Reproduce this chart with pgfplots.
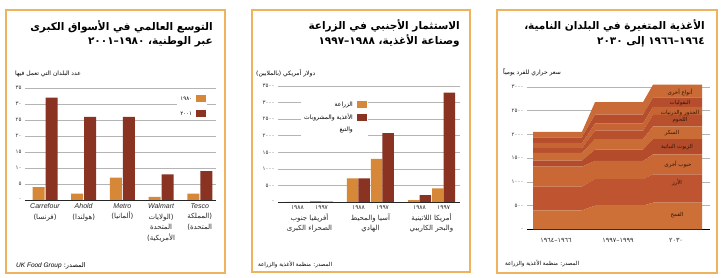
\documentclass[border=0pt]{standalone}
\usepackage{pgfplots}
\pgfplotsset{compat=1.18}
\usepackage{fontspec}
\setmainfont{DejaVu Sans}
\newfontfamily\arabicfont[Script=Arabic]{DejaVu Sans}
\newfontfamily\latinfont{Liberation Sans}
\TeXXeTstate=1
\newcommand{\ar}[1]{{\arabicfont\beginR #1\endR}}
\newcommand{\LL}[1]{\beginL #1\endL}
\definecolor{frame}{HTML}{EDB35F}
\definecolor{barA}{HTML}{D68838}
\definecolor{barB}{HTML}{8A3322}
\definecolor{gridc}{HTML}{B4B4B4}
\definecolor{lbl}{HTML}{2E1608}
\definecolor{c1}{HTML}{CC7038}
\definecolor{c2}{HTML}{BE5530}
\definecolor{c3}{HTML}{C96834}
\definecolor{c4}{HTML}{B44C2C}
\definecolor{c5}{HTML}{CA6C36}
\definecolor{c6}{HTML}{B8502E}
\definecolor{c7}{HTML}{C66433}
\definecolor{c8}{HTML}{B64E2E}
\definecolor{c9}{HTML}{C96A37}
\tikzset{fl/.style={anchor=center, inner sep=0, font=\fontsize{5.5}{6}\selectfont, text=lbl}}
\pgfplotsset{
  sqleg/.style={legend image code/.code={\fill[##1] (0pt,-3pt) rectangle (10pt,4pt);}},
  panel/.style={
    scale only axis, anchor=south west,
    axis x line*=bottom, axis y line*=left,
    y axis line style={draw=none},
    x axis line style={black!85, line width=0.6pt},
    major tick length=0pt,
    ymajorgrids, grid style={gridc, line width=0.5pt},
    tick label style={font=\fontsize{5.5}{6}\selectfont, text=black!80},
    clip=false,
  },
}
\begin{document}
\begin{tikzpicture}
\path[use as bounding box] (0,0) rectangle (721pt,278pt);
\fill[white] (0,0) rectangle (721pt,278pt);
% frames
\draw[frame, line width=1.3pt] (6pt,5pt) rectangle (225pt,268pt);
\draw[frame, line width=1.3pt] (252pt,6pt) rectangle (470pt,268pt);
\draw[frame, line width=1.3pt] (497pt,5pt) rectangle (717pt,268pt);

% ---------- Panel 1 ----------
\node[anchor=base east, inner sep=0] at (213pt,247pt) {\bfseries\fontsize{10.5}{13}\selectfont\ar{التوسع العالمي في الأسواق الكبرى}};
\node[anchor=base east, inner sep=0] at (213pt,233pt) {\bfseries\fontsize{10.5}{13}\selectfont\ar{عبر الوطنية، \LL{١٩٨٠}–\LL{٢٠٠١}}};
\node[anchor=base west, inner sep=0] at (15pt,202pt) {\fontsize{6}{7}\selectfont\ar{عدد البلدان التي تعمل فيها}};
\node[anchor=base west, inner sep=0] at (16pt,10pt) {\fontsize{6.5}{7}\selectfont{\latinfont\itshape UK Food Group} \ar{المصدر:}};

\begin{axis}[panel,
  at={(25pt,78pt)}, width=191pt, height=112pt,
  xmin=-0.517, xmax=4.42, ymin=0, ymax=35,
  ytick={0,5,...,35},
  yticklabels={٠,٥,١٠,١٥,٢٠,٢٥,٣٠,٣٥},
  xtick={0,1,2,3,4},
  xticklabels={
    {{\latinfont\itshape Carrefour}\\\ar{(فرنسا)}},
    {{\latinfont\itshape Ahold}\\\ar{(هولندا)}},
    {{\latinfont\itshape Metro}\\\ar{(ألمانيا)}},
    {{\latinfont\itshape Walmart}\\\ar{(الولايات}\\\ar{المتحدة}\\\ar{الأمريكية)}},
    {{\latinfont\itshape Tesco}\\\ar{(المملكة}\\\ar{المتحدة)}}},
  xticklabel style={font=\fontsize{7}{10.5}\selectfont, align=center, anchor=north, text=black!85},
  ybar, bar width=12pt,
  legend style={draw=none, fill=white, at={(0.955,0.95)}, anchor=north east,
    font=\fontsize{5.5}{6}\selectfont, row sep=6pt, inner sep=1pt, column sep=2pt},
  legend cell align=right, legend plot pos=right,
]
\addplot[fill=barA, draw=none, bar shift=-6.5pt, sqleg] coordinates {(0,4) (1,2) (2,7) (3,1) (4,2)};
\addlegendentry{١٩٨٠}
\addplot[fill=barB, draw=none, bar shift=6.5pt, sqleg] coordinates {(0,32) (1,26) (2,26) (3,8) (4,9)};
\addlegendentry{٢٠٠١}
\end{axis}

% ---------- Panel 2 ----------
\node[anchor=base east, inner sep=0] at (460pt,248pt) {\bfseries\fontsize{10.5}{13}\selectfont\ar{الاستثمار الأجنبي في الزراعة}};
\node[anchor=base east, inner sep=0] at (460pt,233pt) {\bfseries\fontsize{10.5}{13}\selectfont\ar{وصناعة الأغذية، \LL{١٩٨٨}–\LL{١٩٩٧}}};
\node[anchor=base west, inner sep=0] at (256pt,202pt) {\fontsize{6}{7}\selectfont\ar{دولار أمريكي (بالملايين)}};
\node[anchor=base west, inner sep=0] at (258pt,11pt) {\fontsize{5.5}{6}\selectfont\ar{المصدر: منظمة الأغذية والزراعة}};

\begin{axis}[panel,
  at={(278pt,76pt)}, width=182pt, height=116pt,
  xmin=-0.516, xmax=2.467, ymin=0, ymax=3500,
  ytick={0,500,...,3500},
  yticklabels={٠,٥٠٠,١٠٠٠,١٥٠٠,٢٠٠٠,٢٥٠٠,٣٠٠٠,٣٥٠٠},
  xtick={0,1,2},
  xticklabels={
    {\rule{0pt}{15pt}\ar{أفريقيا جنوب}\\\ar{الصحراء الكبرى}},
    {\rule{0pt}{15pt}\ar{آسيا والمحيط}\\\ar{الهادي}},
    {\rule{0pt}{15pt}\ar{أمريكا اللاتينية}\\\ar{والبحر الكاريبي}}},
  xticklabel style={font=\fontsize{7}{10}\selectfont, align=center, anchor=north, text=black!85},
  extra x ticks={-0.197,0.197,0.803,1.197,1.803,2.197},
  extra x tick labels={١٩٨٨,١٩٩٧,١٩٨٨,١٩٩٧,١٩٨٨,١٩٩٧},
  extra x tick style={xticklabel style={font=\fontsize{6}{7}\selectfont}},
  ybar, bar width=11.5pt,
  legend style={draw=none, fill=white, at={(0.495,0.89)}, anchor=north east,
    font=\fontsize{6}{7}\selectfont, row sep=2pt, inner sep=1pt, column sep=2pt},
  legend cell align=right, legend plot pos=right,
]
\addplot[fill=barA, draw=none, bar shift=-17.75pt, sqleg] coordinates {(0,6) (1,710) (2,60)};
\addlegendentry{\ar{الزراعة}}
\addplot[fill=barB, draw=none, bar shift=-6.25pt, sqleg] coordinates {(0,4) (1,710) (2,210)};
\addlegendentry{\ar{الأغذية والمشروبات}}
\addplot[fill=barA, draw=none, bar shift=6.25pt, forget plot] coordinates {(0,30) (1,1300) (2,410)};
\addplot[fill=barB, draw=none, bar shift=17.75pt, forget plot] coordinates {(0,8) (1,2080) (2,3300)};
\addlegendimage{empty legend}
\addlegendentry{\ar{والتبغ}}
\end{axis}

% ---------- Panel 3 ----------
\node[anchor=base east, inner sep=0] at (705pt,248pt) {\bfseries\fontsize{10.5}{13}\selectfont\ar{الأغذية المتغيرة في البلدان النامية،}};
\node[anchor=base east, inner sep=0] at (705pt,233pt) {\bfseries\fontsize{10.5}{13}\selectfont\ar{\LL{١٩٦٤}–\LL{١٩٦٦} إلى \LL{٢٠٣٠}}};
\node[anchor=base west, inner sep=0] at (503pt,203pt) {\fontsize{6}{7}\selectfont\ar{سعر حراري للفرد يومياً}};
\node[anchor=base west, inner sep=0] at (505pt,12pt) {\fontsize{5.5}{6}\selectfont\ar{المصدر: منظمة الأغذية والزراعة}};

\begin{axis}[panel,
  at={(527pt,48.7pt)}, width=183pt, height=142.3pt,
  xmin=0, xmax=183, ymin=0, ymax=3000,
  ytick={0,500,...,3000},
  yticklabels={٠,٥٠٠,١٠٠٠,١٥٠٠,٢٠٠٠,٢٥٠٠,٣٠٠٠},
  x axis line style={black, line width=1.3pt},
  xtick={29,91,149},
  xticklabels={١٩٦٦–١٩٦٤,١٩٩٩–١٩٩٧,٢٠٣٠},
  xticklabel style={font=\fontsize{6.5}{7}\selectfont, yshift=-6pt, text=black!85},
  stack plots=y,
]
\addplot[fill=c1, draw=none] coordinates {(6,400) (55,400) (68,500) (116,500) (126,560) (175,560)} \closedcycle;
\addplot[fill=c2, draw=none] coordinates {(6,500) (55,500) (68,560) (116,560) (126,600) (175,600)} \closedcycle;
\addplot[fill=c3, draw=none] coordinates {(6,420) (55,420) (68,380) (116,380) (126,420) (175,420)} \closedcycle;
\addplot[fill=c4, draw=none] coordinates {(6,130) (55,130) (68,240) (116,240) (126,320) (175,320)} \closedcycle;
\addplot[fill=c5, draw=none] coordinates {(6,160) (55,160) (68,220) (116,220) (126,270) (175,270)} \closedcycle;
\addplot[fill=c6, draw=none] coordinates {(6,100) (55,100) (68,180) (116,180) (126,240) (175,240)} \closedcycle;
\addplot[fill=c7, draw=none] coordinates {(6,110) (55,110) (68,150) (116,150) (126,170) (175,170)} \closedcycle;
\addplot[fill=c8, draw=none] coordinates {(6,120) (55,120) (68,190) (116,190) (126,200) (175,200)} \closedcycle;
\addplot[fill=c9, draw=none] coordinates {(6,114) (55,114) (68,261) (116,261) (126,270) (175,270)} \closedcycle;
\end{axis}
% food-group labels on the 2030 block
\node[fl] at (680pt,185.1pt) {\ar{أنواع أخرى}};
\node[fl] at (680pt,175.1pt) {\ar{البقوليات}};
\node[fl] at (680pt,165.1pt) {\ar{الجذور والدرنيات}};
\node[fl] at (680pt,158.0pt) {\ar{اللحوم}};
\node[fl] at (672pt,145.1pt) {\ar{السكر}};
\node[fl] at (677pt,131.0pt) {\ar{الزيوت النباتية}};
\node[fl] at (678pt,113.1pt) {\ar{حبوب أخرى}};
\node[fl] at (677pt,95.0pt) {\ar{الأرز}};
\node[fl] at (677pt,63.0pt) {\ar{القمح}};
\end{tikzpicture}
\end{document}
